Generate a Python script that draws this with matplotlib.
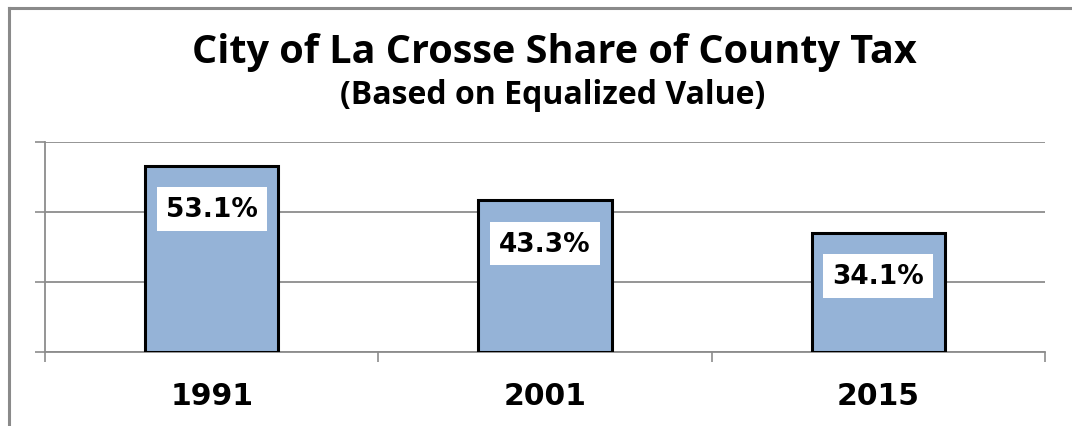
import matplotlib
matplotlib.use("Agg")
import matplotlib.pyplot as plt
from matplotlib.lines import Line2D

years = ["1991", "2001", "2015"]
shares = [53.1, 43.3, 34.1]
labels = ["53.1%", "43.3%", "34.1%"]

W, H = 1072, 427
fig = plt.figure(figsize=(W / 100, H / 100), dpi=100)
fig.patch.set_facecolor("white")

# frame (top and left edges visible)
fig.add_artist(Line2D([8.5 / W, 8.5 / W], [0, 1 - 9 / H], transform=fig.transFigure,
                      color="#8a8a8a", lw=2.2))
fig.add_artist(Line2D([8.5 / W, 1], [1 - 9 / H, 1 - 9 / H], transform=fig.transFigure,
                      color="#8a8a8a", lw=2.2))

ax = fig.add_axes([45 / W, 74 / H, 1000 / W, 210 / H])
x = list(range(len(years)))
ax.bar(x, shares, width=0.40, color="#95B3D7", edgecolor="black", linewidth=2.2, zorder=3)
ax.set_xlim(-0.5, 2.5)
ax.set_ylim(0, 60)
ax.set_yticks([0, 20, 40, 60])
ax.set_yticklabels([])
ax.yaxis.grid(True, color="#8c8c8c", lw=1.3, zorder=0)
ax.tick_params(axis="y", length=7, width=1.2, color="#8c8c8c", direction="out")
ax.set_xticks([-0.5, 0.5, 1.5, 2.5])
ax.set_xticklabels([])
ax.set_xticks(x, minor=True)
ax.set_xticklabels(years, minor=True, fontsize=21.5, fontweight="bold", family="DejaVu Sans")
ax.tick_params(axis="x", which="major", length=7, width=1.2, color="#8c8c8c", direction="out")
ax.tick_params(axis="x", which="minor", length=0, pad=21)
for s in ["top", "right"]:
    ax.spines[s].set_visible(False)
for s in ["left", "bottom"]:
    ax.spines[s].set_color("#8c8c8c")
    ax.spines[s].set_linewidth(1.3)

for xi, v, lab in zip(x, shares, labels):
    ax.text(xi, v - 12.3, lab, ha="center", va="center", fontsize=19, fontweight="bold",
            family="DejaVu Sans", zorder=5,
            bbox=dict(boxstyle="square,pad=0.34", fc="white", ec="none"))

fig.text(554 / W, 1 - 53 / H, "City of La Crosse Share of County Tax", ha="center", va="center",
         fontsize=28.5, fontweight="bold", family="Open Sans")
fig.text(553 / W, 1 - 96 / H, "(Based on Equalized Value)", ha="center", va="center",
         fontsize=23, fontweight="bold", family="Open Sans")

fig.savefig("out.png", dpi=100)
